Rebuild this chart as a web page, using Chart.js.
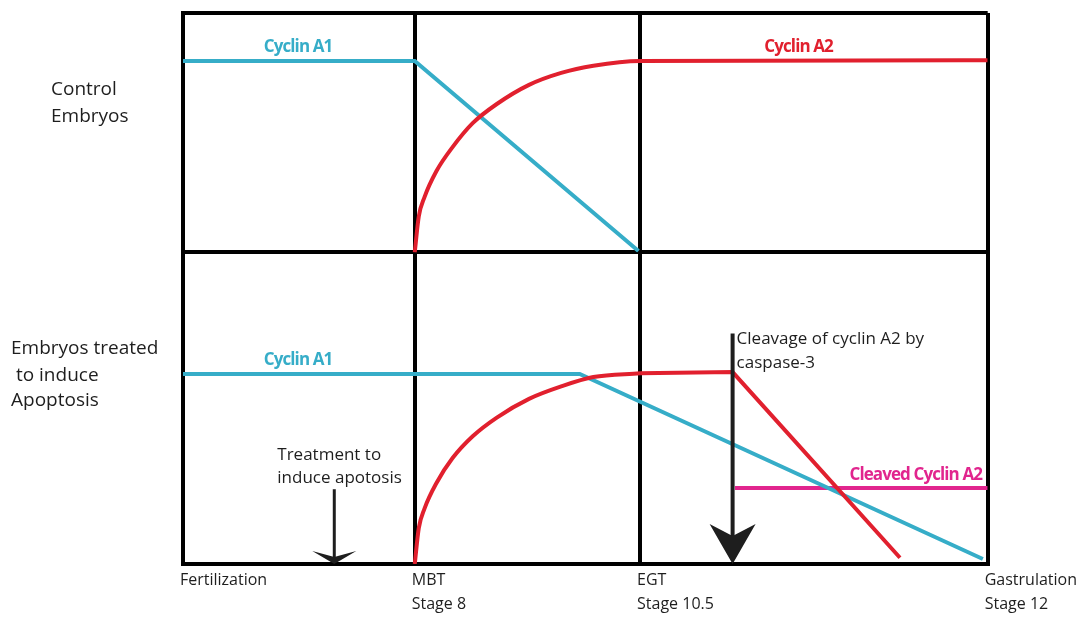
<!DOCTYPE html>
<html>
<head>
<meta charset="utf-8">
<script src="https://cdn.jsdelivr.net/npm/chart.js@4.4.1/dist/chart.umd.min.js"></script>
<style>
  html, body { margin: 0; padding: 0; background: #fff; }
  #wrap { width: 1084px; height: 617px; position: relative; }
</style>
</head>
<body>
<div id="wrap"><canvas id="chart"></canvas></div>
<script>
// time axis in arbitrary units, 0 = fertilization, 100 = gastrulation
const stageTicks = [0, 28.8, 56.8, 100];
const stageLabels = [['Fertilization'], ['MBT', 'Stage 8'], ['EGT', 'Stage 10.5'], ['Gastrulation', 'Stage 12']];

// control embryos (top panel, relative level 0-100)
const ctrlA1X = [0, 28.8, 56.6];
const ctrlA1Y = [80, 80, 0.6];
const ctrlA2X = [28.8, 29.3, 30, 31.5, 33.5, 36, 39, 43, 47, 51, 56.8, 100];
const ctrlA2Y = [0, 15, 23, 34, 44, 54, 62, 70, 75, 78, 80, 80.3];

// embryos treated to induce apoptosis (bottom panel, relative level 0-100)
const apoA1X = [0, 49.3, 99.4];
const apoA1Y = [61, 61, 1.6];
const apoA2RiseX = [28.8, 29.3, 30, 31.5, 33.5, 36, 39, 43, 47, 51, 56.8];
const apoA2RiseY = [0, 11.5, 17.7, 26, 34, 41, 47, 53, 57, 60, 61.2];
const apoA2DropX = [56.8, 68.3, 89.1];
const apoA2DropY = [61.2, 61.6, 2];
const cleavedX = [68.6, 100];
const cleavedY = [24.4, 24.4];

// arrows: time of treatment and of caspase-3 cleavage
const treatX = 18.8;
const caspX = 68.3;

const CYAN = '#36adc8';
const RED = '#e1202e';
const MAGENTA = '#e1258e';
const INK = '#1e1e1e';

const pts = (xs, ys) => xs.map((x, i) => ({ x: x, y: ys[i] }));

function series(label, xs, ys, color, axis, curved) {
  return {
    label: label,
    data: pts(xs, ys),
    yAxisID: axis,
    borderColor: color,
    borderWidth: 4,
    pointRadius: 0,
    fill: false,
    cubicInterpolationMode: curved ? 'monotone' : 'default',
    tension: 0
  };
}

function arrowHead(ctx, x, y, halfW, len, notch) {
  ctx.beginPath();
  ctx.moveTo(x, y);
  ctx.lineTo(x - halfW, y - len);
  ctx.lineTo(x, y - notch);
  ctx.lineTo(x + halfW, y - len);
  ctx.closePath();
  ctx.fill();
}

const notes = {
  id: 'notes',
  afterDatasetsDraw(chart) {
    const ctx = chart.ctx;
    const xs = chart.scales.x;
    const yt = chart.scales.yTop;
    const yb = chart.scales.yBot;
    ctx.save();

    // curve names
    ctx.font = '700 17px "Open Sans"';
    ctx.letterSpacing = '-0.9px';
    ctx.textBaseline = 'middle';
    ctx.textAlign = 'center';
    ctx.fillStyle = CYAN;
    ctx.fillText('Cyclin A1', xs.getPixelForValue(14.3), yt.getPixelForValue(ctrlA1Y[0]) - 14);
    ctx.fillText('Cyclin A1', xs.getPixelForValue(14.3), yb.getPixelForValue(apoA1Y[0]) - 14);
    ctx.fillStyle = RED;
    ctx.fillText('Cyclin A2', xs.getPixelForValue(76.5), yt.getPixelForValue(ctrlA2Y[ctrlA2Y.length - 1]) - 13);
    ctx.fillStyle = MAGENTA;
    ctx.textAlign = 'right';
    ctx.fillText('Cleaved Cyclin A2', xs.getPixelForValue(99.3), yb.getPixelForValue(cleavedY[0]) - 13);
    ctx.letterSpacing = '0px';

    // panel names
    ctx.fillStyle = INK;
    ctx.textAlign = 'left';
    ctx.font = '19px "Open Sans"';
    ctx.fillText('Control', 51, yt.top + 77);
    ctx.fillText('Embryos', 51, yt.top + 104);
    ctx.fillText('Embryos treated', 11, yb.top + 96);
    ctx.fillText(' to induce', 11, yb.top + 123);
    ctx.fillText('Apoptosis', 11, yb.top + 148);

    // treatment arrow
    const tx = xs.getPixelForValue(treatX);
    const tTop = yb.getPixelForValue(24);
    const base = yb.getPixelForValue(0);
    ctx.strokeStyle = INK;
    ctx.lineWidth = 3;
    ctx.beginPath();
    ctx.moveTo(tx, tTop);
    ctx.lineTo(tx, base - 6);
    ctx.stroke();
    arrowHead(ctx, tx, base, 22, 13, 7);
    ctx.font = '17px "Open Sans"';
    ctx.fillText('Treatment to', tx - 57, tTop - 34);
    ctx.fillText('induce apotosis', tx - 57, tTop - 11);

    // caspase-3 arrow
    const cx = xs.getPixelForValue(caspX);
    const cTop = yb.getPixelForValue(74);
    ctx.lineWidth = 4;
    ctx.beginPath();
    ctx.moveTo(cx, cTop);
    ctx.lineTo(cx, base - 20);
    ctx.stroke();
    arrowHead(ctx, cx, base, 23, 40, 28);
    ctx.fillText('Cleavage of cyclin A2 by', cx + 4, cTop + 6);
    ctx.fillText('caspase-3', cx + 4, cTop + 30);

    ctx.restore();
  }
};

const frameGrid = { color: '#000', lineWidth: 4, drawTicks: false };

new Chart(document.getElementById('chart'), {
  type: 'line',
  data: {
    datasets: [
      series('Cyclin A2 (control)', ctrlA2X, ctrlA2Y, RED, 'yTop', true),
      series('Cyclin A1 (control)', ctrlA1X, ctrlA1Y, CYAN, 'yTop', false),
      series('Cyclin A2 (apoptosis)', apoA2RiseX, apoA2RiseY, RED, 'yBot', true),
      series('Cyclin A2 cleavage', apoA2DropX, apoA2DropY, RED, 'yBot', false),
      series('Cyclin A1 (apoptosis)', apoA1X, apoA1Y, CYAN, 'yBot', false),
      series('Cleaved Cyclin A2', cleavedX, cleavedY, MAGENTA, 'yBot', false)
    ]
  },
  options: {
    responsive: true,
    maintainAspectRatio: false,
    animation: false,
    layout: { padding: { left: 183, top: 13, right: 96, bottom: -3 } },
    plugins: {
      legend: { display: false },
      tooltip: { enabled: false }
    },
    scales: {
      x: {
        type: 'linear',
        min: 0,
        max: 100,
        afterBuildTicks: (scale) => { scale.ticks = stageTicks.map(v => ({ value: v })); },
        grid: frameGrid,
        border: { color: '#000', width: 4 },
        ticks: {
          autoSkip: false,
          maxRotation: 0,
          align: 'start',
          padding: 4,
          labelOffset: -3,
          color: INK,
          font: { family: '"Open Sans"', size: 16, lineHeight: 1.5 },
          callback: (v, i) => stageLabels[i]
        }
      },
      // the stack is laid out bottom-up, so the lower panel comes first
      yBot: {
        type: 'linear',
        position: 'left',
        stack: 'panels',
        stackWeight: 311,
        min: 0,
        max: 100,
        afterBuildTicks: (scale) => { scale.ticks = [{ value: 0 }, { value: 100 }]; },
        grid: frameGrid,
        border: { color: '#000', width: 4 },
        ticks: { display: false }
      },
      yTop: {
        type: 'linear',
        position: 'left',
        stack: 'panels',
        stackWeight: 239,
        min: 0,
        max: 100,
        afterBuildTicks: (scale) => { scale.ticks = [{ value: 0 }, { value: 100 }]; },
        grid: frameGrid,
        border: { color: '#000', width: 4 },
        ticks: { display: false }
      }
    }
  },
  plugins: [notes]
});
</script>
</body>
</html>
